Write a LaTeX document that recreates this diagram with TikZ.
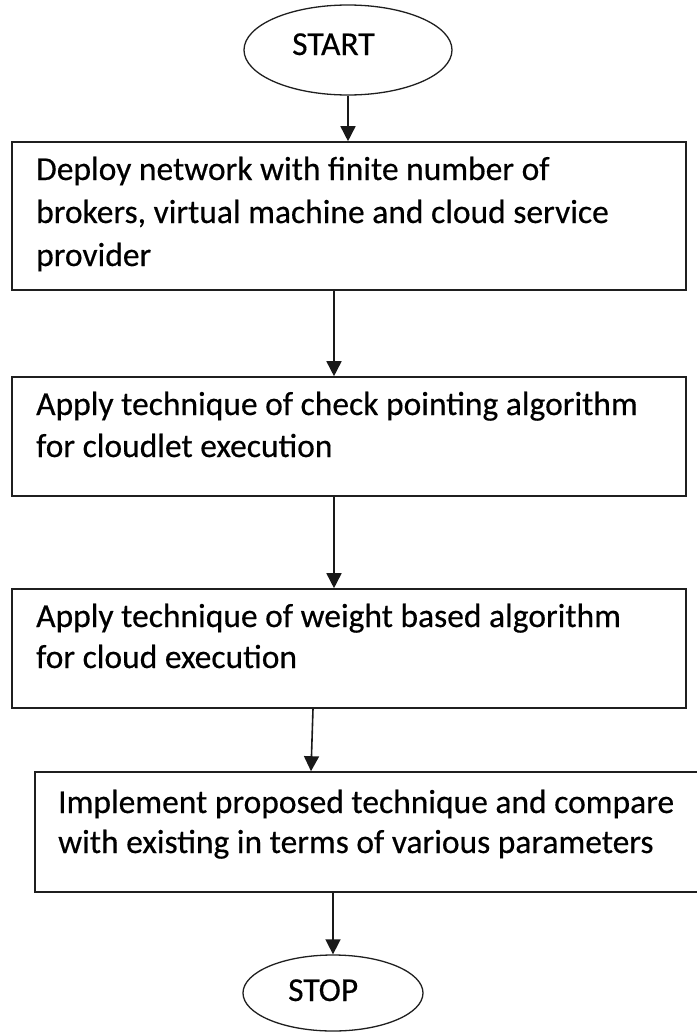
\documentclass[tikz,border=0pt]{standalone}
\usepackage{fontspec}
\setmainfont{Carlito}[UprightFeatures={FakeBold=0.4}]
\usetikzlibrary{arrows.meta,shapes.geometric}
\begin{document}
\begin{tikzpicture}[x=1bp,y=-1bp,
  box/.style={draw=black!88, line width=1.6bp, rectangle, inner sep=0pt},
  oval/.style={draw=black!88, line width=1.3bp, ellipse, inner sep=0pt},
  txt/.style={font=\fontsize{33.5bp}{42bp}\selectfont, inner sep=0pt, anchor=base west, text=black},
  arr/.style={line width=1.6bp, draw=black!90, -{Triangle[width=15bp,length=15bp]}}]
\useasboundingbox (0,0) rectangle (697,1034);
% shapes
\node[oval, minimum width=208bp, minimum height=90bp] (start) at (348,50) {};
\node[box, minimum width=674bp, minimum height=148bp] (b1) at (349,216) {};
\node[box, minimum width=674bp, minimum height=119bp] (b2) at (349,436.5) {};
\node[box, minimum width=674bp, minimum height=119bp] (b3) at (349,648.5) {};
\node[box, minimum width=665bp, minimum height=120bp] (b4) at (367.5,832) {};
\node[oval, minimum width=180bp, minimum height=76bp] (stop) at (333,993) {};
% texts
\node[txt] (tstart) at (292,55) {START};
\node[txt] (t1a) at (36,180) {Deploy network with finite number of};
\node[txt] (t1b) at (36,223) {brokers, virtual machine and cloud service};
\node[txt] (t1c) at (36,266) {provider};
\node[txt] (t2a) at (36,415) {Apply technique of check pointing algorithm};
\node[txt] (t2b) at (36,457) {for cloudlet execution};
\node[txt] (t3a) at (36,627) {Apply technique of weight based algorithm};
\node[txt] (t3b) at (36,668) {for cloud execution};
\node[txt] (t4a) at (58,813) {Implement proposed technique and compare};
\node[txt] (t4b) at (58,853) {with existing in terms of various parameters};
\node[txt] (tstop) at (288,1001) {STOP};
% connectors
\draw[arr] (start.south) -- (start.south |- b1.north);
\draw[arr] ([xshift=-15bp]b1.south) -- ([xshift=-15bp]b2.north);
\draw[arr] ([xshift=-15bp]b2.south) -- ([xshift=-15bp]b3.north);
\draw[arr] ([xshift=-36bp]b3.south) -- ([xshift=-56.5bp]b4.north);
\draw[arr] (b4.south -| stop.north) -- (stop.north);
\end{tikzpicture}
\end{document}
